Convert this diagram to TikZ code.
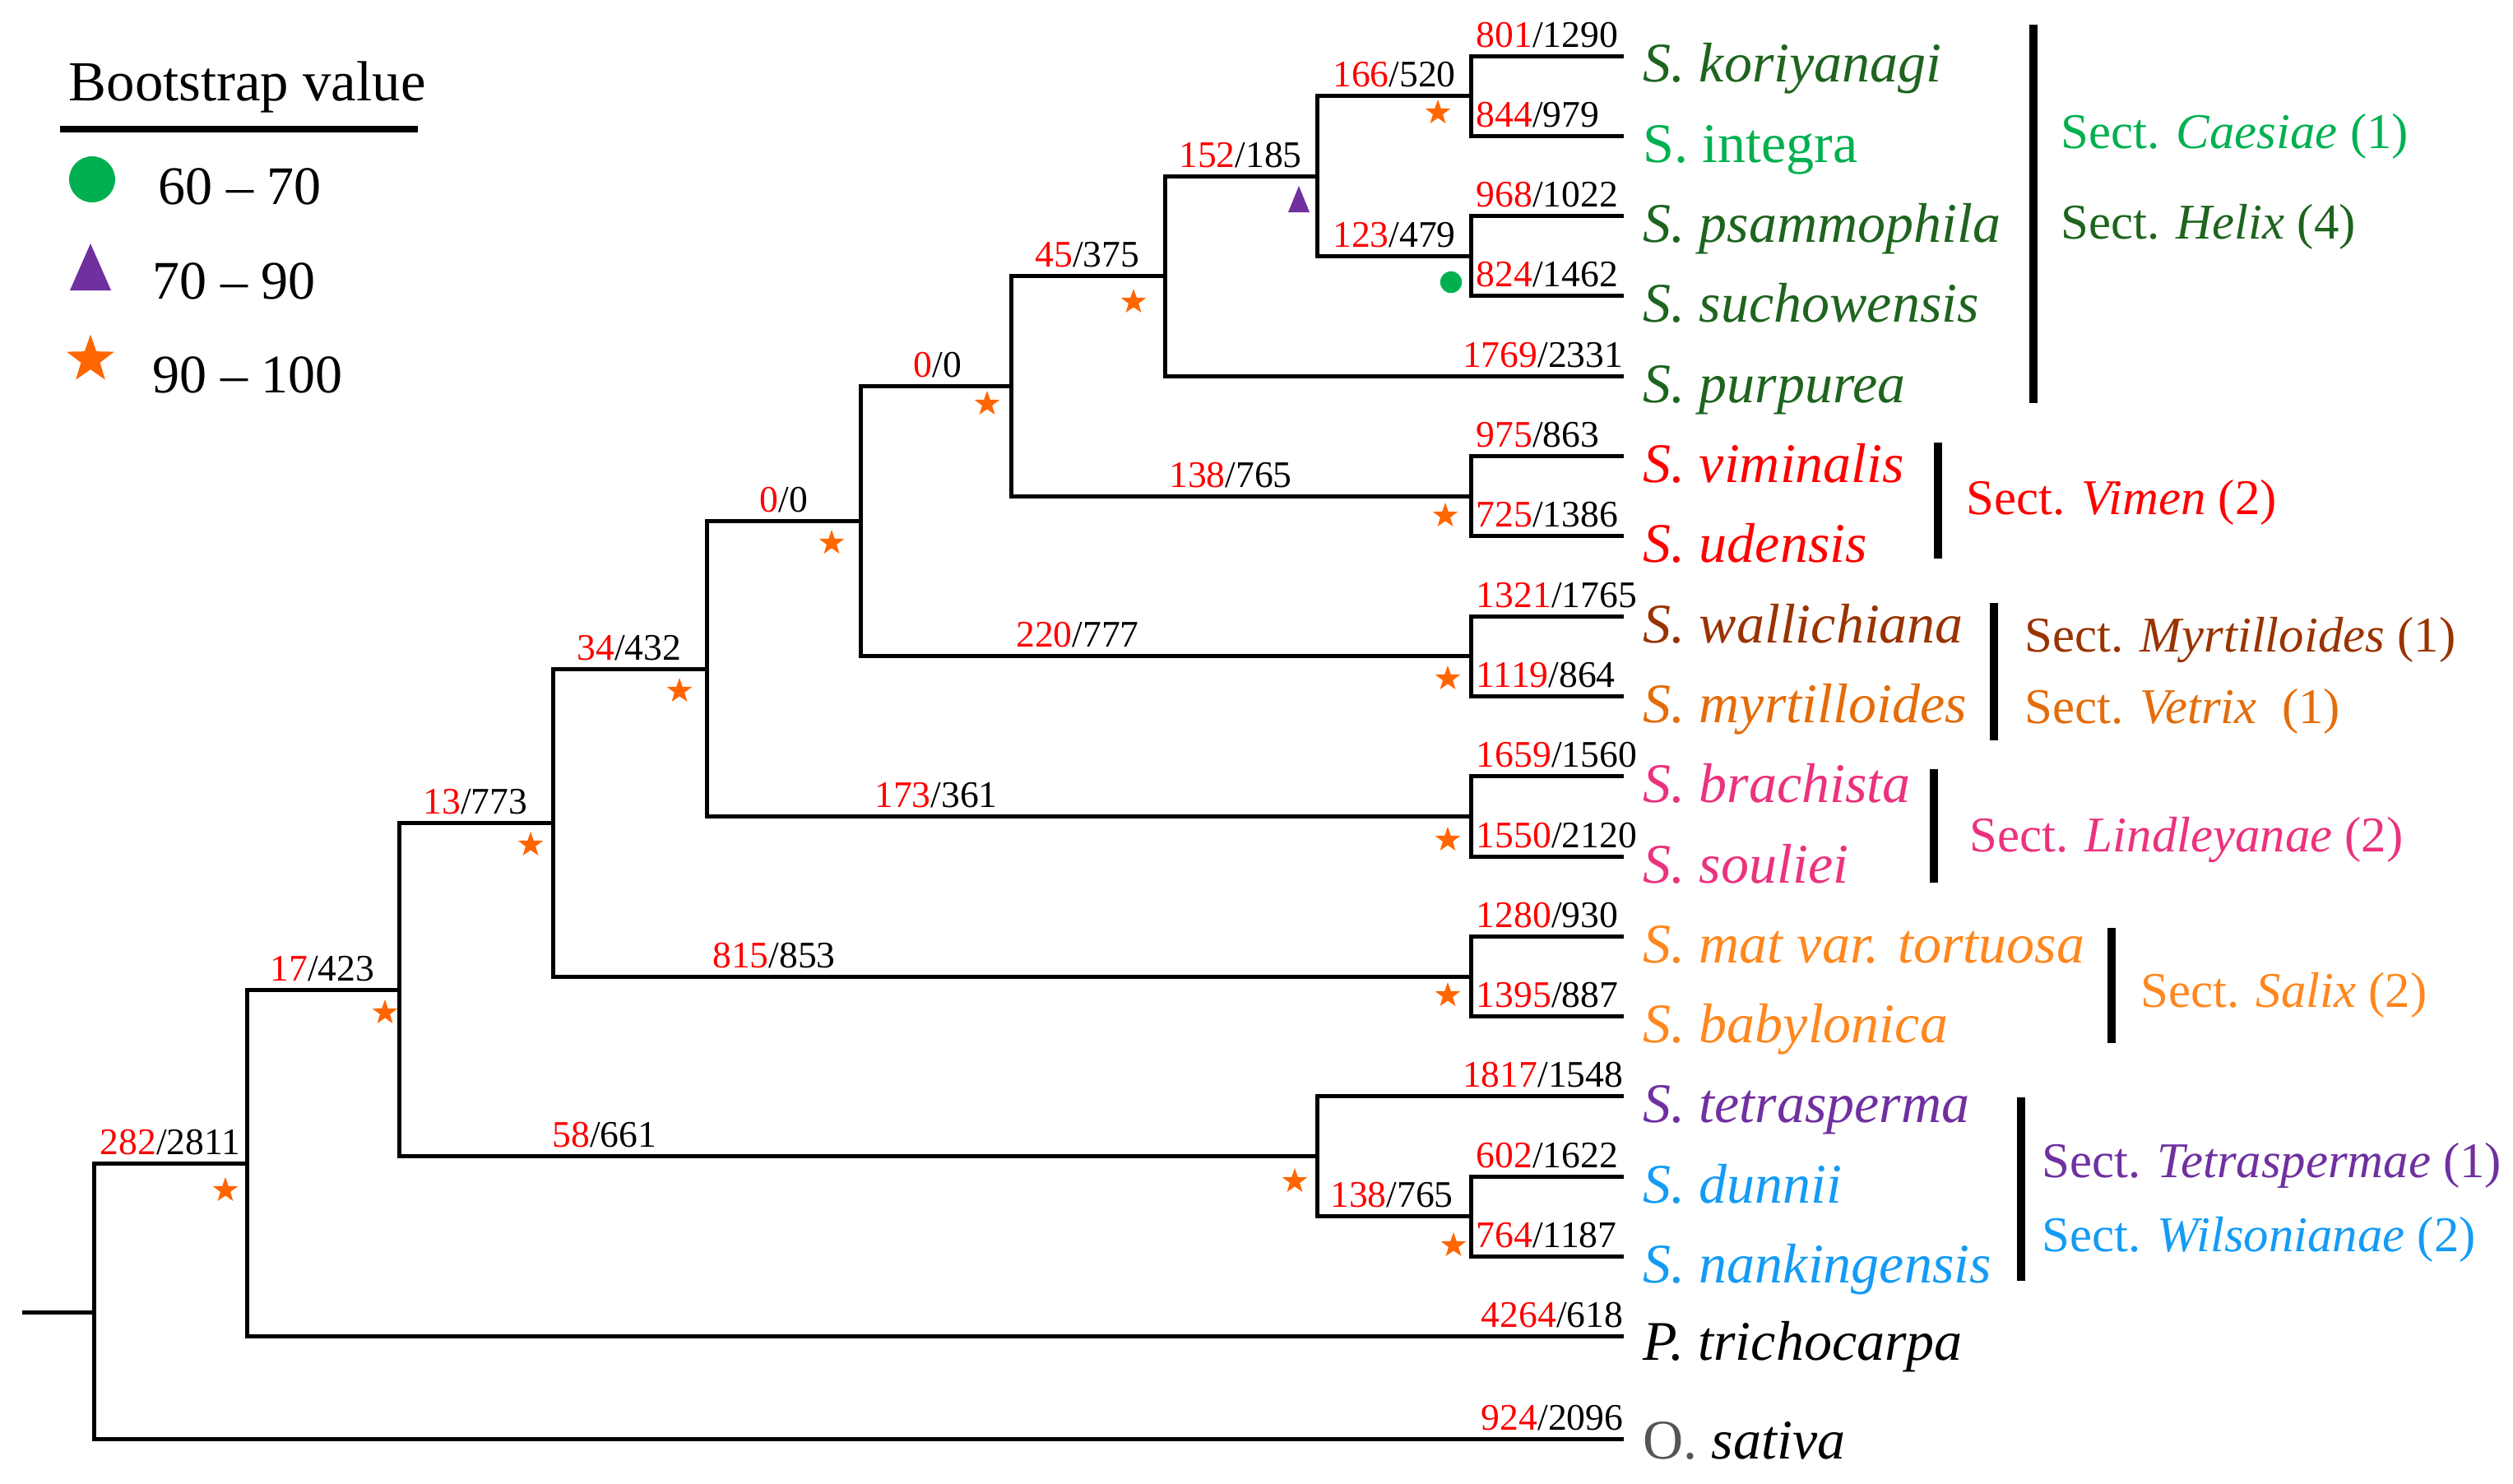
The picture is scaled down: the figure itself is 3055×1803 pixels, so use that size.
\documentclass[tikz,border=0pt]{standalone}
\usepackage{fontspec}
\setmainfont{Liberation Serif}
\usetikzlibrary{shapes.geometric}
\definecolor{hel}{RGB}{30,100,30}
\definecolor{cae}{RGB}{0,176,80}
\definecolor{vim}{RGB}{255,0,0}
\definecolor{myr}{RGB}{153,51,0}
\definecolor{vet}{RGB}{228,108,10}
\definecolor{lin}{RGB}{235,50,125}
\definecolor{sal}{RGB}{255,135,30}
\definecolor{tet}{RGB}{112,48,160}
\definecolor{wil}{RGB}{20,155,245}
\definecolor{bred}{RGB}{255,0,0}
\definecolor{mstar}{RGB}{255,102,0}
\definecolor{mcirc}{RGB}{0,176,80}
\definecolor{mtri}{RGB}{112,48,160}
\definecolor{ogray}{RGB}{85,85,85}
\newcommand{\bval}[2]{\textcolor{bred}{#1}/#2}
\begin{document}
\begin{tikzpicture}[x=0.25pt,y=-0.25pt,
  br/.style={line width=1.25pt, line join=miter},
  bar/.style={line width=2.3pt},
  bl/.style={font=\fontsize{11.4}{13}\selectfont, inner sep=0pt},
  tx/.style={font=\fontsize{17}{20}\selectfont\itshape, anchor=base west, inner sep=0pt},
  sc/.style={font=\fontsize{15.2}{18}\selectfont, anchor=base west, inner sep=0pt},
  lg/.style={font=\fontsize{16.5}{19}\selectfont, anchor=base west, inner sep=0pt},
  bstar/.style={star, star points=5, star point ratio=2.5, fill=mstar, inner sep=0pt, minimum size=8pt},
  bcirc/.style={circle, fill=mcirc, inner sep=0pt, minimum size=6.6pt}]
\useasboundingbox (0,0) rectangle (3055,1803);

% ---------- legend ----------
\node[font=\fontsize{17.2}{20}\selectfont, anchor=base west, inner sep=0pt] (lgt) at (83,122) {Bootstrap value};
\coordinate (ul1) at (73,157);
\coordinate (ul2) at (508,157);
\draw[line width=2pt] (ul1) -- (ul2);
\node[circle, fill=mcirc, inner sep=0pt, minimum size=14pt] (lgc) at (112,218) {};
\node[lg] (lg1) at (192,248) {60 – 70};
\coordinate (lgtri) at (110,325);
\fill[mtri] ([shift={(-25,28)}]lgtri) -- ([shift={(25,28)}]lgtri) -- ([shift={(0,-29)}]lgtri) -- cycle;
\node[lg] (lg2) at (185,363) {70 – 90};
\node[bstar, minimum size=15.2pt] (lgs) at (110,437) {};
\node[lg] (lg3) at (185,477) {90 – 100};

% ---------- tree nodes ----------
\coordinate (stub) at (27,1595);
\coordinate (root) at (114,1595);
\coordinate (n282) at (300,1414);
\coordinate (n17) at (485,1203);
\coordinate (n13) at (672,1000);
\coordinate (n34) at (859,813);
\coordinate (n0b) at (1046,633.6);
\coordinate (n0a) at (1229,469.5);
\coordinate (n45) at (1416,335.6);
\coordinate (n152) at (1601,214);
\coordinate (nki) at (1788,116.7);
\coordinate (nps) at (1788,311.3);
\coordinate (nvi) at (1788,603.2);
\coordinate (nwa) at (1788,797.8);
\coordinate (nbr) at (1788,992.4);
\coordinate (nma) at (1788,1187);
\coordinate (n58) at (1601,1405.9);
\coordinate (ndu) at (1788,1478.9);
\coordinate (t0) at (1974,68);
\coordinate (t1) at (1974,165.3);
\coordinate (t2) at (1974,262.6);
\coordinate (t3) at (1974,359.9);
\coordinate (t4) at (1974,457.2);
\coordinate (t5) at (1974,554.5);
\coordinate (t6) at (1974,651.8);
\coordinate (t7) at (1974,749.1);
\coordinate (t8) at (1974,846.4);
\coordinate (t9) at (1974,943.7);
\coordinate (t10) at (1974,1041);
\coordinate (t11) at (1974,1138.3);
\coordinate (t12) at (1974,1235.6);
\coordinate (t13) at (1974,1332.9);
\coordinate (t14) at (1974,1430.2);
\coordinate (t15) at (1974,1527.5);
\coordinate (t16) at (1974,1624.8);
\coordinate (t17) at (1974,1749);

% ---------- branches ----------
\draw[br] (stub) -- (root);
\draw[br] (root) |- (n282);
\draw[br] (root) |- (t17);
\draw[br] (n282) |- (n17);
\draw[br] (n282) |- (t16);
\draw[br] (n17) |- (n13);
\draw[br] (n17) |- (n58);
\draw[br] (n13) |- (n34);
\draw[br] (n13) |- (nma);
\draw[br] (n34) |- (n0b);
\draw[br] (n34) |- (nbr);
\draw[br] (n0b) |- (n0a);
\draw[br] (n0b) |- (nwa);
\draw[br] (n0a) |- (n45);
\draw[br] (n0a) |- (nvi);
\draw[br] (n45) |- (n152);
\draw[br] (n45) |- (t4);
\draw[br] (n152) |- (nki);
\draw[br] (n152) |- (nps);
\draw[br] (nki) |- (t0);
\draw[br] (nki) |- (t1);
\draw[br] (nps) |- (t2);
\draw[br] (nps) |- (t3);
\draw[br] (nvi) |- (t5);
\draw[br] (nvi) |- (t6);
\draw[br] (nwa) |- (t7);
\draw[br] (nwa) |- (t8);
\draw[br] (nbr) |- (t9);
\draw[br] (nbr) |- (t10);
\draw[br] (nma) |- (t11);
\draw[br] (nma) |- (t12);
\draw[br] (n58) |- (t13);
\draw[br] (n58) |- (ndu);
\draw[br] (ndu) |- (t14);
\draw[br] (ndu) |- (t15);

% ---------- branch labels ----------
\node[bl, anchor=base] (b282) at (207,1403) {\bval{282}{2811}};
\node[bl, anchor=base east] (b924) at (1974,1738) {\bval{924}{2096}};
\node[bl, anchor=base] (b17) at (392,1192) {\bval{17}{423}};
\node[bl, anchor=base east] (b4264) at (1974,1613.8) {\bval{4264}{618}};
\node[bl, anchor=base] (b13) at (578,989) {\bval{13}{773}};
\node[bl, anchor=base] (b58) at (735,1394.9) {\bval{58}{661}};
\node[bl, anchor=base] (b34) at (765,802) {\bval{34}{432}};
\node[bl, anchor=base] (b815) at (941,1176) {\bval{815}{853}};
\node[bl, anchor=base] (b0b) at (953,622.6) {\bval{0}{0}};
\node[bl, anchor=base] (b173) at (1138,981.4) {\bval{173}{361}};
\node[bl, anchor=base] (b0a) at (1140,458.5) {\bval{0}{0}};
\node[bl, anchor=base] (b220) at (1310,786.8) {\bval{220}{777}};
\node[bl, anchor=base] (b45) at (1322,324.6) {\bval{45}{375}};
\node[bl, anchor=base] (b138a) at (1496,592.2) {\bval{138}{765}};
\node[bl, anchor=base] (b152) at (1508,203) {\bval{152}{185}};
\node[bl, anchor=base east] (b1769) at (1974,446.2) {\bval{1769}{2331}};
\node[bl, anchor=base] (b166) at (1695,105.7) {\bval{166}{520}};
\node[bl, anchor=base] (b123) at (1695,300.3) {\bval{123}{479}};
\node[bl, anchor=base east] (b1817) at (1974,1321.9) {\bval{1817}{1548}};
\node[bl, anchor=base] (b138b) at (1692,1467.9) {\bval{138}{765}};
\node[bl, anchor=base west] (b801) at (1794,57) {\bval{801}{1290}};
\node[bl, anchor=base west] (b844) at (1794,154.3) {\bval{844}{979}};
\node[bl, anchor=base west] (b968) at (1794,251.6) {\bval{968}{1022}};
\node[bl, anchor=base west] (b824) at (1794,348.9) {\bval{824}{1462}};
\node[bl, anchor=base west] (b975) at (1794,543.5) {\bval{975}{863}};
\node[bl, anchor=base west] (b725) at (1794,640.8) {\bval{725}{1386}};
\node[bl, anchor=base west] (b1321) at (1794,738.1) {\bval{1321}{1765}};
\node[bl, anchor=base west] (b1119) at (1794,835.4) {\bval{1119}{864}};
\node[bl, anchor=base west] (b1659) at (1794,932.7) {\bval{1659}{1560}};
\node[bl, anchor=base west] (b1550) at (1794,1030) {\bval{1550}{2120}};
\node[bl, anchor=base west] (b1280) at (1794,1127.3) {\bval{1280}{930}};
\node[bl, anchor=base west] (b1395) at (1794,1224.6) {\bval{1395}{887}};
\node[bl, anchor=base west] (b602) at (1794,1419.2) {\bval{602}{1622}};
\node[bl, anchor=base west] (b764) at (1794,1516.5) {\bval{764}{1187}};

% ---------- support markers ----------
\node[bstar] (sKI) at (1748,137) {};
\node[bstar] (s45) at (1378,367) {};
\node[bstar] (s0a) at (1200,491) {};
\node[bstar] (sVI) at (1757,627) {};
\node[bstar] (s0b) at (1011,660) {};
\node[bstar] (s34) at (826,840) {};
\node[bstar] (sWA) at (1760,825) {};
\node[bstar] (s13) at (645,1027) {};
\node[bstar] (sBR) at (1760,1021) {};
\node[bstar] (s17) at (468,1231) {};
\node[bstar] (sMA) at (1760,1210) {};
\node[bstar] (s282) at (274,1447) {};
\node[bstar] (s58) at (1574,1436) {};
\node[bstar] (sDU) at (1767,1514) {};
\node[bcirc] (cPS) at (1764,343) {};
\coordinate (m152) at (1579,242);
\fill[mtri] ([shift={(-13,16)}]m152) -- ([shift={(13,16)}]m152) -- ([shift={(0,-16)}]m152) -- cycle;

% ---------- taxa ----------
\node[tx, text=hel] (L0) at ([shift={(23,31)}]t0) {S. koriyanagi};
\node[tx, text=cae, font=\fontsize{17}{20}\selectfont\upshape] (L1) at ([shift={(23,32)}]t1) {S. integra};
\node[tx, text=hel] (L2) at ([shift={(23,32)}]t2) {S. psammophila};
\node[tx, text=hel] (L3) at ([shift={(23,32)}]t3) {S. suchowensis};
\node[tx, text=hel] (L4) at ([shift={(23,32)}]t4) {S. purpurea};
\node[tx, text=vim] (L5) at ([shift={(23,32)}]t5) {S. viminalis};
\node[tx, text=vim] (L6) at ([shift={(23,32)}]t6) {S. udensis};
\node[tx, text=myr] (L7) at ([shift={(23,32)}]t7) {S. wallichiana};
\node[tx, text=vet] (L8) at ([shift={(23,32)}]t8) {S. myrtilloides};
\node[tx, text=lin] (L9) at ([shift={(23,32)}]t9) {S. brachista};
\node[tx, text=lin] (L10) at ([shift={(23,32)}]t10) {S. souliei};
\node[tx, text=sal] (L11) at ([shift={(23,32)}]t11) {S. mat var. tortuosa};
\node[tx, text=sal] (L12) at ([shift={(23,32)}]t12) {S. babylonica};
\node[tx, text=tet] (L13) at ([shift={(23,32)}]t13) {S. tetrasperma};
\node[tx, text=wil] (L14) at ([shift={(23,32)}]t14) {S. dunnii};
\node[tx, text=wil] (L15) at ([shift={(23,32)}]t15) {S. nankingensis};
\node[tx] (L16) at ([shift={(23,29)}]t16) {P. trichocarpa};
\node[tx] (L17) at ([shift={(23,24)}]t17) {\textcolor{ogray}{\upshape O.} sativa};

% ---------- sections ----------
\coordinate (h1) at (2472,30);   \coordinate (h2) at (2472,490);
\coordinate (v1) at (2356,538);  \coordinate (v2) at (2356,679);
\coordinate (m1) at (2424,733);  \coordinate (m2) at (2424,900);
\coordinate (l1) at (2351,935);  \coordinate (l2) at (2351,1073);
\coordinate (x1) at (2567,1128); \coordinate (x2) at (2567,1268);
\coordinate (w1) at (2457,1334); \coordinate (w2) at (2457,1557);
\draw[bar] (h1) -- (h2);
\draw[bar] (v1) -- (v2);
\draw[bar] (m1) -- (m2);
\draw[bar] (l1) -- (l2);
\draw[bar] (x1) -- (x2);
\draw[bar] (w1) -- (w2);
\node[sc, text=cae] (S1) at (2505,180) {Sect. \textit{Caesiae} (1)};
\node[sc, text=hel] (S2) at (2505,290) {Sect. \textit{Helix} (4)};
\node[sc, text=vim] (S3) at (2390,625) {Sect. \textit{Vimen} (2)};
\node[sc, text=myr] (S4) at (2461,792) {Sect. \textit{Myrtilloides} (1)};
\node[sc, text=vet] (S5) at (2461,879) {Sect. \textit{Vetrix}\ \ (1)};
\node[sc, text=lin] (S6) at (2394,1035) {Sect. \textit{Lindleyanae} (2)};
\node[sc, text=sal] (S7) at (2602,1224) {Sect. \textit{Salix} (2)};
\node[sc, text=tet] (S8) at (2482,1431) {Sect. \textit{Tetraspermae} (1)};
\node[sc, text=wil] (S9) at (2482,1521) {Sect. \textit{Wilsonianae} (2)};
\end{tikzpicture}
\end{document}
